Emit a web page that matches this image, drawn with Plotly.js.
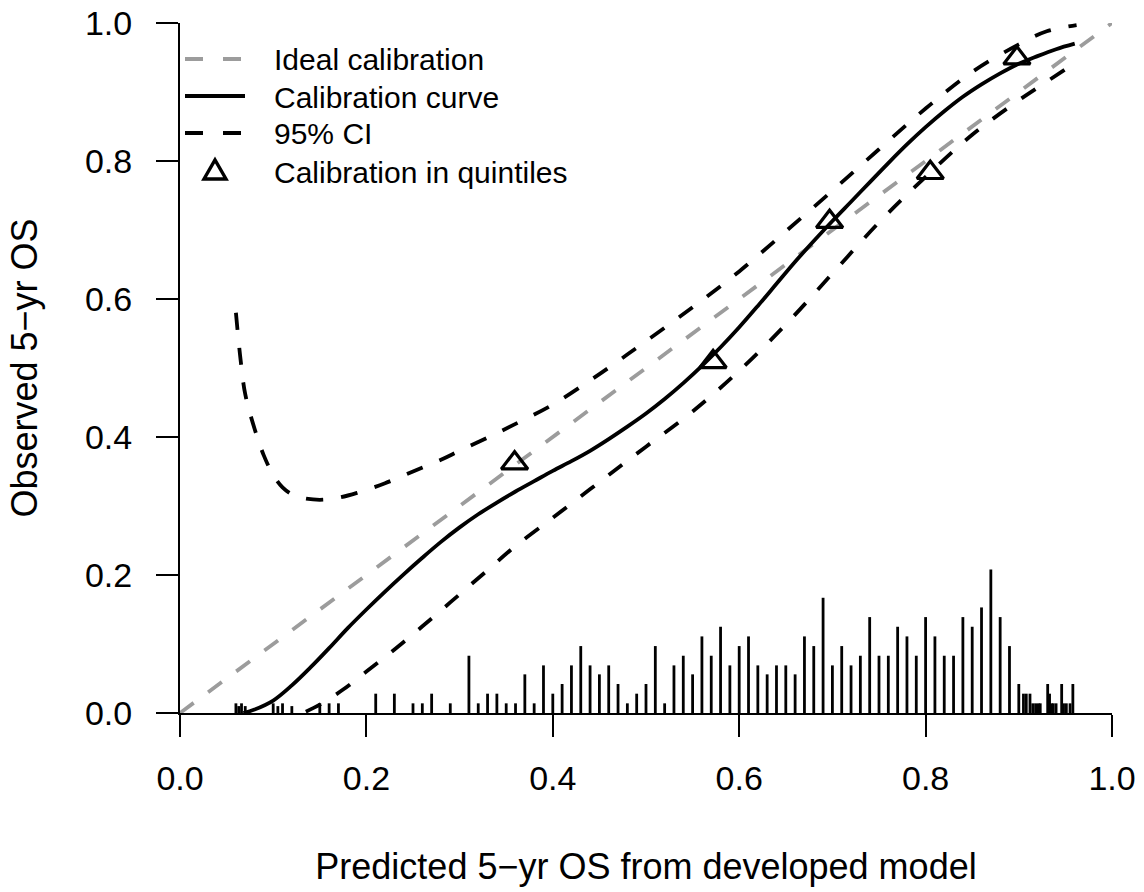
<!DOCTYPE html>
<html><head><meta charset="utf-8">
<script src="https://cdn.plot.ly/plotly-3.0.1.min.js"></script>
<style>html,body{margin:0;padding:0;background:#fff;} #chart{width:1144px;height:892px;}</style>
</head><body><div id="chart"></div>
<script>
// Ideal calibration line
const idealX = [0, 1];
const idealY = [0, 1];

// Calibration curve (solid)
const curveX = [0.068,0.08,0.10,0.12,0.14,0.16,0.18,0.20,0.22,0.24,0.26,0.28,0.30,0.32,0.34,0.36,0.38,0.40,0.42,0.44,0.46,0.48,0.50,0.52,0.54,0.56,0.58,0.60,0.62,0.64,0.66,0.68,0.70,0.72,0.74,0.76,0.78,0.80,0.82,0.84,0.86,0.88,0.90,0.92,0.94,0.96];
const curveY = [0.0,0.005,0.018,0.040,0.066,0.094,0.123,0.150,0.176,0.201,0.225,0.248,0.269,0.288,0.305,0.321,0.336,0.351,0.365,0.380,0.397,0.415,0.434,0.455,0.478,0.503,0.530,0.559,0.590,0.622,0.654,0.684,0.713,0.741,0.769,0.797,0.824,0.849,0.872,0.893,0.911,0.927,0.941,0.952,0.962,0.970];

// 95% CI upper
const upperX = [0.06,0.065,0.07,0.08,0.09,0.10,0.11,0.12,0.13,0.15,0.17,0.19,0.22,0.25,0.28,0.30,0.33,0.36,0.40,0.44,0.47,0.50,0.55,0.60,0.65,0.70,0.75,0.80,0.85,0.90,0.93,0.962];
const upperY = [0.580,0.512,0.462,0.412,0.373,0.345,0.327,0.317,0.312,0.309,0.312,0.319,0.333,0.350,0.367,0.380,0.399,0.419,0.447,0.482,0.510,0.539,0.588,0.640,0.698,0.757,0.817,0.876,0.929,0.969,0.988,0.997];

// 95% CI lower
const lowerX = [0.135,0.15,0.175,0.20,0.22,0.24,0.27,0.30,0.33,0.36,0.40,0.43,0.46,0.50,0.55,0.60,0.65,0.70,0.75,0.80,0.85,0.90,0.93,0.96];
const lowerY = [0.002,0.012,0.034,0.060,0.081,0.103,0.137,0.172,0.207,0.242,0.283,0.314,0.345,0.386,0.437,0.496,0.563,0.637,0.711,0.777,0.838,0.888,0.915,0.942];

// Calibration in quintiles
const quintX = [0.359,0.572,0.697,0.805,0.898];
const quintY = [0.362,0.509,0.712,0.783,0.949];

// Spike histogram of predictions
const spikeX = [0.060,0.063,0.066,0.070,0.100,0.105,0.110,0.120,0.150,0.160,0.170,0.21,0.23,0.25,0.26,0.27,0.29,
  0.31,0.32,0.33,0.34,0.35,0.36,0.37,0.38,0.39,0.40,0.41,0.42,0.43,0.44,0.45,0.46,0.47,0.48,0.49,0.50,
  0.51,0.52,0.53,0.54,0.55,0.56,0.57,0.58,0.59,0.60,0.61,0.62,0.63,0.64,0.65,0.66,0.67,0.68,0.69,0.70,
  0.71,0.72,0.73,0.74,0.75,0.76,0.77,0.78,0.79,0.80,0.81,0.82,0.83,0.84,0.85,0.86,0.87,0.88,0.89,
  0.900,0.905,0.908,0.912,0.915,0.918,0.921,0.923,0.931,0.933,0.935,0.937,0.940,0.946,0.948,0.951,0.955,0.958];
const spikeH = [0.014,0.010,0.014,0.010,0.014,0.010,0.014,0.010,0.014,0.014,0.014,0.028,0.028,0.014,0.014,0.028,0.014,
  0.083,0.014,0.028,0.028,0.014,0.014,0.056,0.014,0.069,0.028,0.042,0.069,0.097,0.069,0.056,0.069,0.042,0.014,0.028,0.042,
  0.097,0.014,0.069,0.083,0.056,0.111,0.083,0.125,0.069,0.097,0.111,0.069,0.056,0.069,0.069,0.056,0.111,0.097,0.167,0.069,
  0.097,0.069,0.083,0.139,0.083,0.083,0.125,0.111,0.083,0.139,0.111,0.083,0.083,0.139,0.125,0.153,0.208,0.139,0.097,
  0.042,0.028,0.028,0.028,0.014,0.014,0.014,0.014,0.042,0.028,0.014,0.014,0.014,0.042,0.014,0.014,0.014,0.042];

const tickVals = [0, 0.2, 0.4, 0.6, 0.8, 1.0];
const tickText = ['0.0','0.2','0.4','0.6','0.8','1.0'];

const legendLabels = ['Ideal calibration', 'Calibration curve', '95% CI', 'Calibration in quintiles'];

// build spike segments
const sx = [], sy = [];
for (let i = 0; i < spikeX.length; i++) { sx.push(spikeX[i], spikeX[i], null); sy.push(0, spikeH[i], null); }

const FONT = 'Liberation Sans, Arial, Helvetica, sans-serif';
const GRAY = '#9c9c9c';
const dash = '17px,18px';
const LW = 3.8;

const traces = [
  {x: sx, y: sy, mode: 'lines', line: {color: '#000', width: 2.8}, showlegend: false, hoverinfo: 'skip'},
  {x: idealX, y: idealY, mode: 'lines', name: legendLabels[0], showlegend: false, line: {color: GRAY, width: LW, dash: dash}},
  {x: curveX, y: curveY, mode: 'lines', name: legendLabels[1], showlegend: false, line: {color: '#000', width: LW, shape: 'spline', smoothing: 1}},
  {x: upperX, y: upperY, mode: 'lines', name: legendLabels[2], showlegend: false, line: {color: '#000', width: LW, dash: dash, shape: 'spline', smoothing: 1}},
  {x: lowerX, y: lowerY, mode: 'lines', name: legendLabels[2], showlegend: false, line: {color: '#000', width: LW, dash: dash, shape: 'spline', smoothing: 1}},
  {x: quintX, y: quintY, mode: 'markers', name: legendLabels[3], showlegend: false, marker: {symbol: 'triangle-up-open', size: 23, color: '#000', line: {width: 3.2, color: '#000'}}}
];

// Legend (drawn in paper coordinates, top-left of plot)
const L = 180, T = 23, W = 932, H = 690;
const px = v => (v - L) / W;
const py = v => (T + H - v) / H;
const rowsY = [59, 96, 133, 171];
const shapes = [
  {type: 'line', xref: 'paper', yref: 'paper', x0: px(185), x1: px(241), y0: py(rowsY[0]), y1: py(rowsY[0]), line: {color: GRAY, width: LW, dash: '18px,20px'}},
  {type: 'line', xref: 'paper', yref: 'paper', x0: px(185), x1: px(245), y0: py(rowsY[1]), y1: py(rowsY[1]), line: {color: '#000', width: LW}},
  {type: 'line', xref: 'paper', yref: 'paper', x0: px(185), x1: px(241), y0: py(rowsY[2]), y1: py(rowsY[2]), line: {color: '#000', width: LW, dash: '18px,20px'}},
  {type: 'path', xref: 'paper', yref: 'paper',
   path: 'M' + px(204) + ',' + py(rowsY[3] + 8) + ' L' + px(226) + ',' + py(rowsY[3] + 8) + ' L' + px(215) + ',' + py(rowsY[3] - 11) + ' Z',
   line: {color: '#000', width: 3.4}, fillcolor: 'rgba(0,0,0,0)'}
];
const annotations = legendLabels.map((t, i) => ({
  text: t, xref: 'paper', yref: 'paper', x: px(272), y: py(rowsY[i] + 1), xanchor: 'left', yanchor: 'middle',
  showarrow: false, font: {family: FONT, size: 30, color: '#000'}
}));

const axisCommon = {
  range: [0, 1], tickvals: tickVals, ticktext: tickText,
  showgrid: false, zeroline: false, showline: true, linecolor: '#000', linewidth: 2,
  ticks: 'outside', ticklen: 22, tickwidth: 2, tickcolor: '#000',
  tickfont: {family: FONT, size: 34, color: '#000'}, fixedrange: true
};

const layout = {
  width: 1144, height: 892,
  margin: {l: L, r: 1144 - L - W, t: T, b: 892 - T - H},
  paper_bgcolor: '#fff', plot_bgcolor: '#fff',
  font: {family: FONT, color: '#000'},
  showlegend: false,
  shapes: shapes,
  annotations: annotations,
  xaxis: Object.assign({}, axisCommon, {ticklabelstandoff: 12,
    title: {text: 'Predicted 5\u2212yr OS from developed model', font: {family: FONT, size: 36, color: '#000'}, standoff: 58}}),
  yaxis: Object.assign({}, axisCommon, {ticklabelstandoff: 17,
    title: {text: 'Observed 5\u2212yr OS', font: {family: FONT, size: 36, color: '#000'}, standoff: 36}})
};

Plotly.newPlot('chart', traces, layout, {displayModeBar: false, staticPlot: true});
</script>
</body></html>
